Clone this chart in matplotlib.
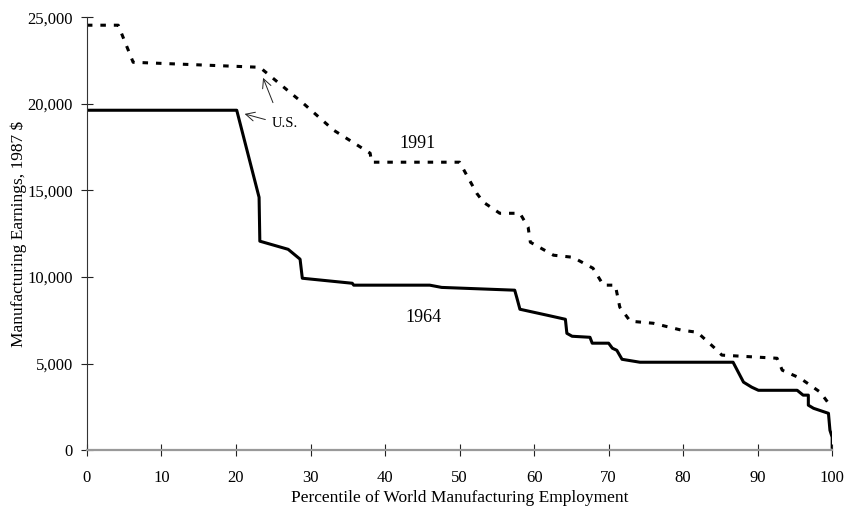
import matplotlib.pyplot as plt
from matplotlib.ticker import FuncFormatter

plt.rcParams['font.family'] = ['Liberation Serif', 'DejaVu Serif']

# 1964 earnings curve (percentile, 1987 $)
pct_1964 = [0, 20.1, 23.1, 23.2, 27.0, 28.6, 28.9, 35.6, 35.8, 46.0, 47.6, 57.4,
            57.7, 58.1, 61.7, 64.2, 64.4, 65.1, 67.5, 67.8, 70.0, 70.5, 71.1,
            71.8, 74.2, 86.7, 88.1, 89.2, 90.1, 95.3, 96.1, 96.8, 96.8, 97.5,
            99.5, 99.7, 100.0, 100.0]
earn_1964 = [19630, 19630, 14600, 12070, 11600, 11030, 9930, 9640, 9530, 9530,
             9400, 9240, 8780, 8140, 7800, 7560, 6750, 6580, 6520, 6180, 6180,
             5890, 5770, 5250, 5080, 5080, 3930, 3640, 3460, 3460, 3180, 3180,
             2600, 2420, 2130, 1150, 750, 170]

# 1991 earnings curve
pct_1991 = [0, 4.2, 6.2, 23.2, 27.7, 29.0, 33.1, 38.0, 38.2, 50.0, 52.3, 53.2,
            55.4, 58.1, 59.2, 59.5, 62.6, 65.2, 67.9, 69.3, 70.9, 71.5, 72.9,
            76.0, 79.8, 81.9, 84.1, 85.2, 92.6, 93.3, 95.7, 98.4, 99.7, 100.0]
earn_1991 = [24540, 24540, 22400, 22110, 20500, 20040, 18480, 17150, 16630,
             16630, 14840, 14320, 13680, 13680, 12880, 12010, 11260, 11140,
             10510, 9530, 9530, 8260, 7450, 7330, 6930, 6810, 5950, 5490, 5310,
             4620, 4160, 3350, 2600, 2450]

fig = plt.figure(figsize=(8.44, 5.07), dpi=100)
ax = fig.add_axes([0.103, 0.112, 0.883, 0.854])

ax.plot(pct_1991, earn_1991, color='black', linewidth=2.2, dashes=(1.8, 2.6),
        solid_capstyle='butt', dash_capstyle='butt')
ax.plot(pct_1964, earn_1964, color='black', linewidth=2.2)

ax.set_xlim(0, 100)
ax.set_ylim(0, 25000)
ax.set_xticks(range(0, 101, 10))
ax.set_yticks(range(0, 25001, 5000))
ax.yaxis.set_major_formatter(FuncFormatter(lambda v, p: f'{int(v):,}'))

ax.spines['right'].set_visible(False)
ax.spines['top'].set_visible(False)
ax.spines['left'].set_color('#333333')
ax.spines['left'].set_linewidth(0.8)
ax.spines['bottom'].set_color('#999999')
ax.spines['bottom'].set_linewidth(1.6)
ax.tick_params(direction='inout', length=8, width=0.8, color='#222222',
               labelsize=12, pad=6)
ax.tick_params(axis='x', pad=10)

ax.set_xlabel('Percentile of World Manufacturing Employment', fontsize=12.5, labelpad=3)
ax.set_ylabel('Manufacturing Earnings, 1987 $', fontsize=12.5, labelpad=0)

# labels and arrows
ax.text(44.3, 17730, '1991', fontsize=13, ha='center', va='center')
ax.text(45.2, 7680, '1964', fontsize=13, ha='center', va='center')
ax.text(24.8, 18880, 'U.S.', fontsize=10.5, ha='left', va='center')
ax.annotate('', xy=(20.8, 19460), xytext=(24.3, 19050),
            arrowprops=dict(arrowstyle='->', lw=0.7, color='#222222',
                            mutation_scale=16))
ax.annotate('', xy=(23.5, 21650), xytext=(25.1, 19920),
            arrowprops=dict(arrowstyle='->', lw=0.7, color='#222222',
                            mutation_scale=16))

fig.savefig('out.png', dpi=100)
